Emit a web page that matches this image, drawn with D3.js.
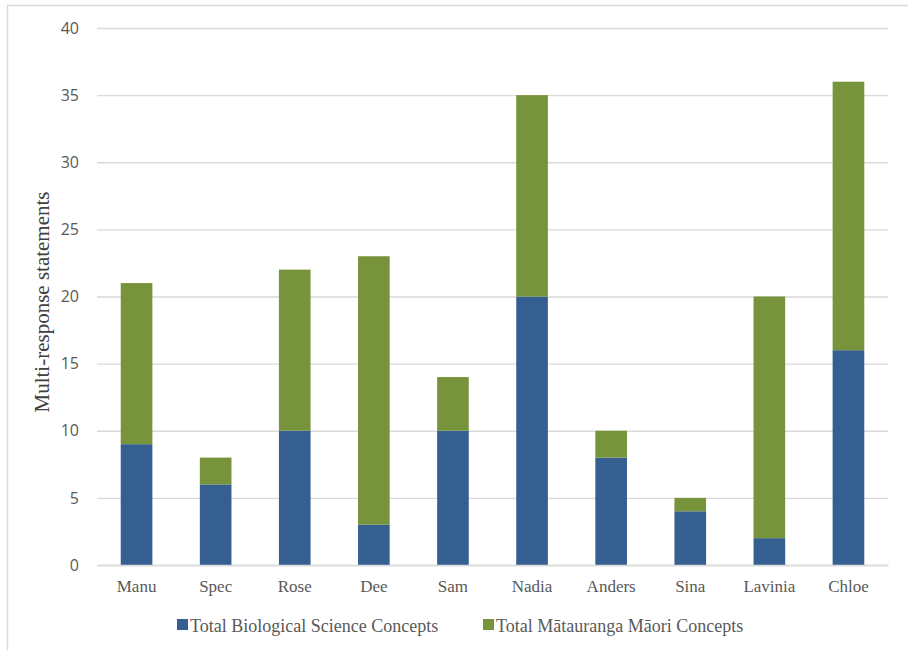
<!DOCTYPE html>
<html>
<head>
<meta charset="utf-8">
<script src="https://cdn.jsdelivr.net/npm/d3@7"></script>
<style>
  html, body { margin: 0; padding: 0; background: #fff; }
  svg { display: block; }
</style>
</head>
<body>
<svg id="chart" width="908" height="650"></svg>
<script>
// Statement counts per participant
const participants = ["Manu", "Spec", "Rose", "Dee", "Sam", "Nadia", "Anders", "Sina", "Lavinia", "Chloe"];
const biologicalScience = [9, 6, 10, 3, 10, 20, 8, 4, 2, 16];
const matauranga = [12, 2, 12, 20, 4, 15, 2, 1, 18, 20];
const seriesNames = ["Total Biological Science Concepts", "Total M\u0101tauranga M\u0101ori Concepts"];
const seriesColors = ["#355f91", "#77933c"];
const yTicks = [0, 5, 10, 15, 20, 25, 30, 35, 40];

const svg = d3.select("#chart");
const W = 908, H = 650;
const x0 = 97, x1 = 888, yTop = 28, yBase = 565;
const serif = "'Liberation Serif', 'Times New Roman', serif";

// frame lines along the top and left
svg.append("line").attr("x1", 7).attr("x2", W).attr("y1", 5.5).attr("y2", 5.5)
  .attr("stroke", "#d9d9d9").attr("stroke-width", 1.5);
svg.append("line").attr("x1", 7.5).attr("x2", 7.5).attr("y1", 5).attr("y2", H)
  .attr("stroke", "#d9d9d9").attr("stroke-width", 1.5);

const x = d3.scaleBand().domain(participants).range([x0, x1]).paddingInner(0.6).paddingOuter(0.3);
const y = d3.scaleLinear().domain([0, 40]).range([yBase, yTop]);

// gridlines + y tick labels
const yAxis = d3.axisLeft(y).tickValues(yTicks).tickSize(-(x1 - x0)).tickPadding(18);
const gy = svg.append("g").attr("transform", `translate(${x0},0)`).call(yAxis);
gy.select(".domain").remove();
gy.selectAll(".tick line").attr("stroke", "#d9d9d9").attr("stroke-width", 1.3);
gy.selectAll(".tick text")
  .attr("fill", "#595959")
  .style("font-family", "'Open Sans', 'Liberation Sans', sans-serif")
  .style("font-size", "16px");

// stacked bars
const rows = participants.map((p, i) => ({ name: p, bio: biologicalScience[i], mm: matauranga[i] }));
const stack = d3.stack().keys(["bio", "mm"])(rows);
svg.append("g").selectAll("g").data(stack).join("g")
  .attr("fill", (d, i) => seriesColors[i])
  .selectAll("rect").data(d => d).join("rect")
  .attr("x", d => x(d.data.name))
  .attr("width", x.bandwidth())
  .attr("y", d => y(d[1]))
  .attr("height", d => y(d[0]) - y(d[1]));

// x axis
const xAxis = d3.axisBottom(x).tickSize(0).tickPadding(15);
const gx = svg.append("g").attr("transform", `translate(0,${yBase})`).call(xAxis);
gx.select(".domain").attr("stroke", "#d9d9d9").attr("stroke-width", 1.3);
gx.selectAll(".tick text")
  .attr("fill", "#595959")
  .style("font-family", serif)
  .style("font-size", "17px");

// y axis title
svg.append("text")
  .attr("transform", `translate(49,302) rotate(-90)`)
  .attr("text-anchor", "middle")
  .attr("fill", "#404040")
  .style("font-family", serif)
  .style("font-size", "21px")
  .text("Multi-response statements");

// legend
const legendX = [177, 483];
const lg = svg.append("g").selectAll("g").data(seriesNames).join("g")
  .attr("transform", (d, i) => `translate(${legendX[i]},632)`);
lg.append("rect").attr("x", 0).attr("y", -13).attr("width", 11).attr("height", 11)
  .attr("fill", (d, i) => seriesColors[i]);
lg.append("text").attr("x", 13).attr("y", 0)
  .attr("fill", "#595959")
  .style("font-family", serif)
  .style("font-size", "18px")
  .text(d => d);
</script>
</body>
</html>
